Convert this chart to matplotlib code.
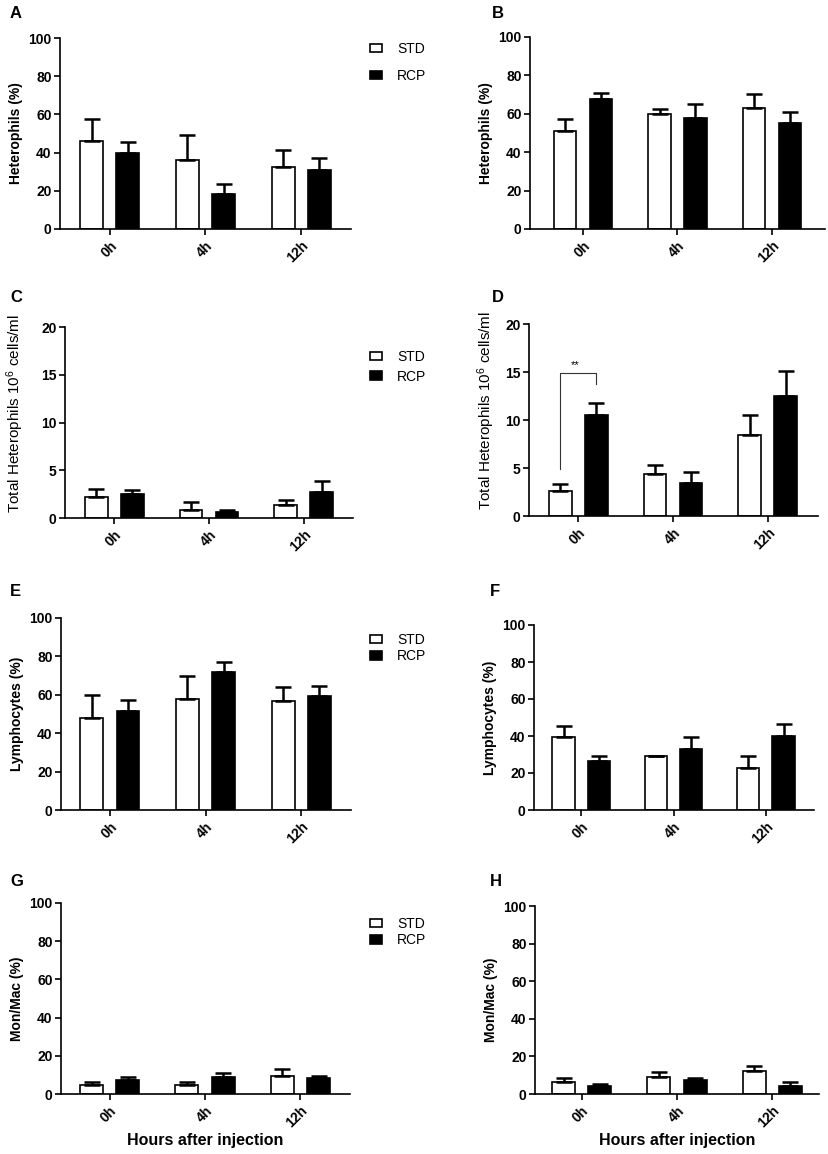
import numpy as np
import matplotlib
matplotlib.use("Agg")
import matplotlib.pyplot as plt
from matplotlib.patches import Patch

plt.rcParams['font.family'] = ['Liberation Sans', 'DejaVu Sans']
plt.rcParams['mathtext.default'] = 'regular'

# %% data
times = ["0h", "4h", "12h"]
groups = ["STD", "RCP"]

# A: heterophils (%) group 1
a_std = [46.0, 36.2, 32.2]
a_std_err = [11.8, 12.8, 9.4]
a_rcp = [39.9, 18.3, 31.0]
a_rcp_err = [5.7, 5.2, 6.3]

# B: heterophils (%) group 2
b_std = [51.2, 60.1, 63.2]
b_std_err = [6.1, 2.4, 6.9]
b_rcp = [67.9, 58.0, 55.0]
b_rcp_err = [2.9, 7.3, 6.0]

# C: total heterophils 10^6 cells/ml group 1
c_std = [2.2, 0.87, 1.33]
c_std_err = [0.8, 0.77, 0.59]
c_rcp = [2.55, 0.66, 2.76]
c_rcp_err = [0.42, 0.14, 1.08]

# D: total heterophils 10^6 cells/ml group 2
d_std = [2.6, 4.38, 8.45]
d_std_err = [0.74, 0.94, 2.05]
d_rcp = [10.5, 3.4, 12.5]
d_rcp_err = [1.25, 1.15, 2.6]

# E: lymphocytes (%) group 1
e_std = [48.0, 57.6, 56.7]
e_std_err = [11.8, 12.0, 7.6]
e_rcp = [51.8, 71.8, 59.5]
e_rcp_err = [5.4, 5.2, 5.0]

# F: lymphocytes (%) group 2
f_std = [39.5, 29.4, 22.9]
f_std_err = [5.9, 0.0, 6.3]
f_rcp = [26.3, 33.2, 40.2]
f_rcp_err = [2.7, 6.4, 6.1]

# G: mon/mac (%) group 1
g_std = [4.9, 4.7, 9.6]
g_std_err = [1.2, 1.6, 3.3]
g_rcp = [7.1, 8.9, 8.2]
g_rcp_err = [1.8, 1.9, 1.4]

# H: mon/mac (%) group 2
h_std = [6.4, 9.2, 12.0]
h_std_err = [2.1, 2.7, 3.0]
h_rcp = [4.1, 7.6, 4.1]
h_rcp_err = [1.4, 1.1, 2.3]

# significance bracket in D (0h): bar height, left leg end, right leg end
d_sig_y = [14.9, 4.9, 13.8]
d_sig_text = "**"

pct_label = ["Heterophils (%)", "Lymphocytes (%)", "Mon/Mac (%)"]
tot_label = r"Total Heterophils 10$^{6}$ cells/ml"
x_label = "Hours after injection"

# %% layout (pixels: left, top, right, bottom)
W, H = 829, 1154
panels = [
    ("A", (60, 38, 351, 229), a_std, a_std_err, a_rcp, a_rcp_err, pct_label[0], 100, 20, (-0.52, 2.52)),
    ("B", (530, 37, 825, 229), b_std, b_std_err, b_rcp, b_rcp_err, pct_label[0], 100, 20, (-0.56, 2.56)),
    ("C", (65, 327, 353, 518), c_std, c_std_err, c_rcp, c_rcp_err, tot_label, 20, 5, (-0.52, 2.52)),
    ("D", (529, 324, 818, 516), d_std, d_std_err, d_rcp, d_rcp_err, tot_label, 20, 5, (-0.52, 2.53)),
    ("E", (61, 618, 351, 810), e_std, e_std_err, e_rcp, e_rcp_err, pct_label[1], 100, 20, (-0.51, 2.52)),
    ("F", (534, 625, 814, 810), f_std, f_std_err, f_rcp, f_rcp_err, pct_label[1], 100, 20, (-0.51, 2.52)),
    ("G", (61, 903, 350, 1094), g_std, g_std_err, g_rcp, g_rcp_err, pct_label[2], 100, 20, (-0.51, 2.52)),
    ("H", (535, 906, 819, 1094), h_std, h_std_err, h_rcp, h_rcp_err, pct_label[2], 100, 20, (-0.49, 2.49)),
]
# legend: first-row top (px) and row spacing for the left column panels
legend_pos = {"A": (42, 0.95), "C": (350, 0.4), "E": (633, 0.18), "G": (917, 0.18)}
letter_pos = {"A": (10, 14), "B": (492, 14), "C": (10, 297), "D": (492, 298),
              "E": (10, 592), "F": (490, 592), "G": (10, 881), "H": (490, 881)}
# long y label of C/D: centre in px
tot_label_pos = {"C": (15, 413), "D": (486, 410)}

fig = plt.figure(figsize=(W / 100, H / 100), dpi=100)

off = 0.19
bw = 0.24
lw = 1.2

for name, (l, t, r, b), s, se, rc, rce, ylab, ymax, ystep, xl in panels:
    ax = fig.add_axes([l / W, 1 - b / H, (r - l) / W, (b - t) / H])
    x = np.arange(len(times))
    ekw = dict(elinewidth=1.8, capthick=1.8, ecolor='black')
    ax.bar(x - off, s, bw, color='white', edgecolor='black', linewidth=lw,
           yerr=[np.zeros(3), se], capsize=5.5, error_kw=ekw, label=groups[0], zorder=2)
    ax.bar(x + off, rc, bw, color='black', edgecolor='black', linewidth=lw,
           yerr=[np.zeros(3), rce], capsize=5.5, error_kw=ekw, label=groups[1], zorder=2)

    ax.set_xlim(xl)
    ax.set_ylim(0, ymax)
    ax.set_yticks(np.arange(0, ymax + 1, ystep))
    ax.set_xticks(x)
    ax.set_xticklabels(times, rotation=45, ha='right', va='top', rotation_mode='anchor')
    for sp in ['top', 'right']:
        ax.spines[sp].set_visible(False)
    for sp in ['left', 'bottom']:
        ax.spines[sp].set_linewidth(1.2)
    ax.tick_params(axis='both', direction='out', length=4, width=1.2, labelsize=10, pad=2)
    ax.tick_params(axis='x', pad=3)
    for lbl in ax.get_xticklabels() + ax.get_yticklabels():
        lbl.set_fontweight('bold')

    if ylab == tot_label:
        ax.set_ylabel(ylab, fontsize=11, va='center')
        px, py = tot_label_pos[name]
        ax.yaxis.set_label_coords((px - l) / (r - l), (b - py) / (b - t))
    else:
        ax.set_ylabel(ylab, fontsize=10, fontweight='bold', labelpad=4)

    if name in ("G", "H"):
        ax.set_xlabel(x_label, fontsize=11.5, fontweight='bold', labelpad=2)

    if name == "D":
        xs = [x[0] - off, x[0] - off, x[0] + off, x[0] + off]
        ys = [d_sig_y[1], d_sig_y[0], d_sig_y[0], d_sig_y[2]]
        ax.plot(xs, ys, color='#333333', linewidth=0.8, zorder=3)
        ax.text(x[0] - 0.03, d_sig_y[0] + 0.3, d_sig_text, ha='center', va='bottom', fontsize=8)

    if name in legend_pos:
        top, spacing = legend_pos[name]
        handles = [Patch(facecolor='white', edgecolor='black', linewidth=1.2, label=groups[0]),
                   Patch(facecolor='black', edgecolor='black', linewidth=1.2, label=groups[1])]
        fig.legend(handles=handles, loc='upper left', bbox_to_anchor=(370 / W, 1 - top / H),
                   frameon=False, fontsize=10, handlelength=0.85, handleheight=0.55,
                   handletextpad=1.1, labelspacing=spacing, borderpad=0, borderaxespad=0)

    lx, ly = letter_pos[name]
    fig.text(lx / W, 1 - ly / H, name, ha='left', va='center', fontsize=12, fontweight='bold')

fig.savefig("out.png", dpi=100)
